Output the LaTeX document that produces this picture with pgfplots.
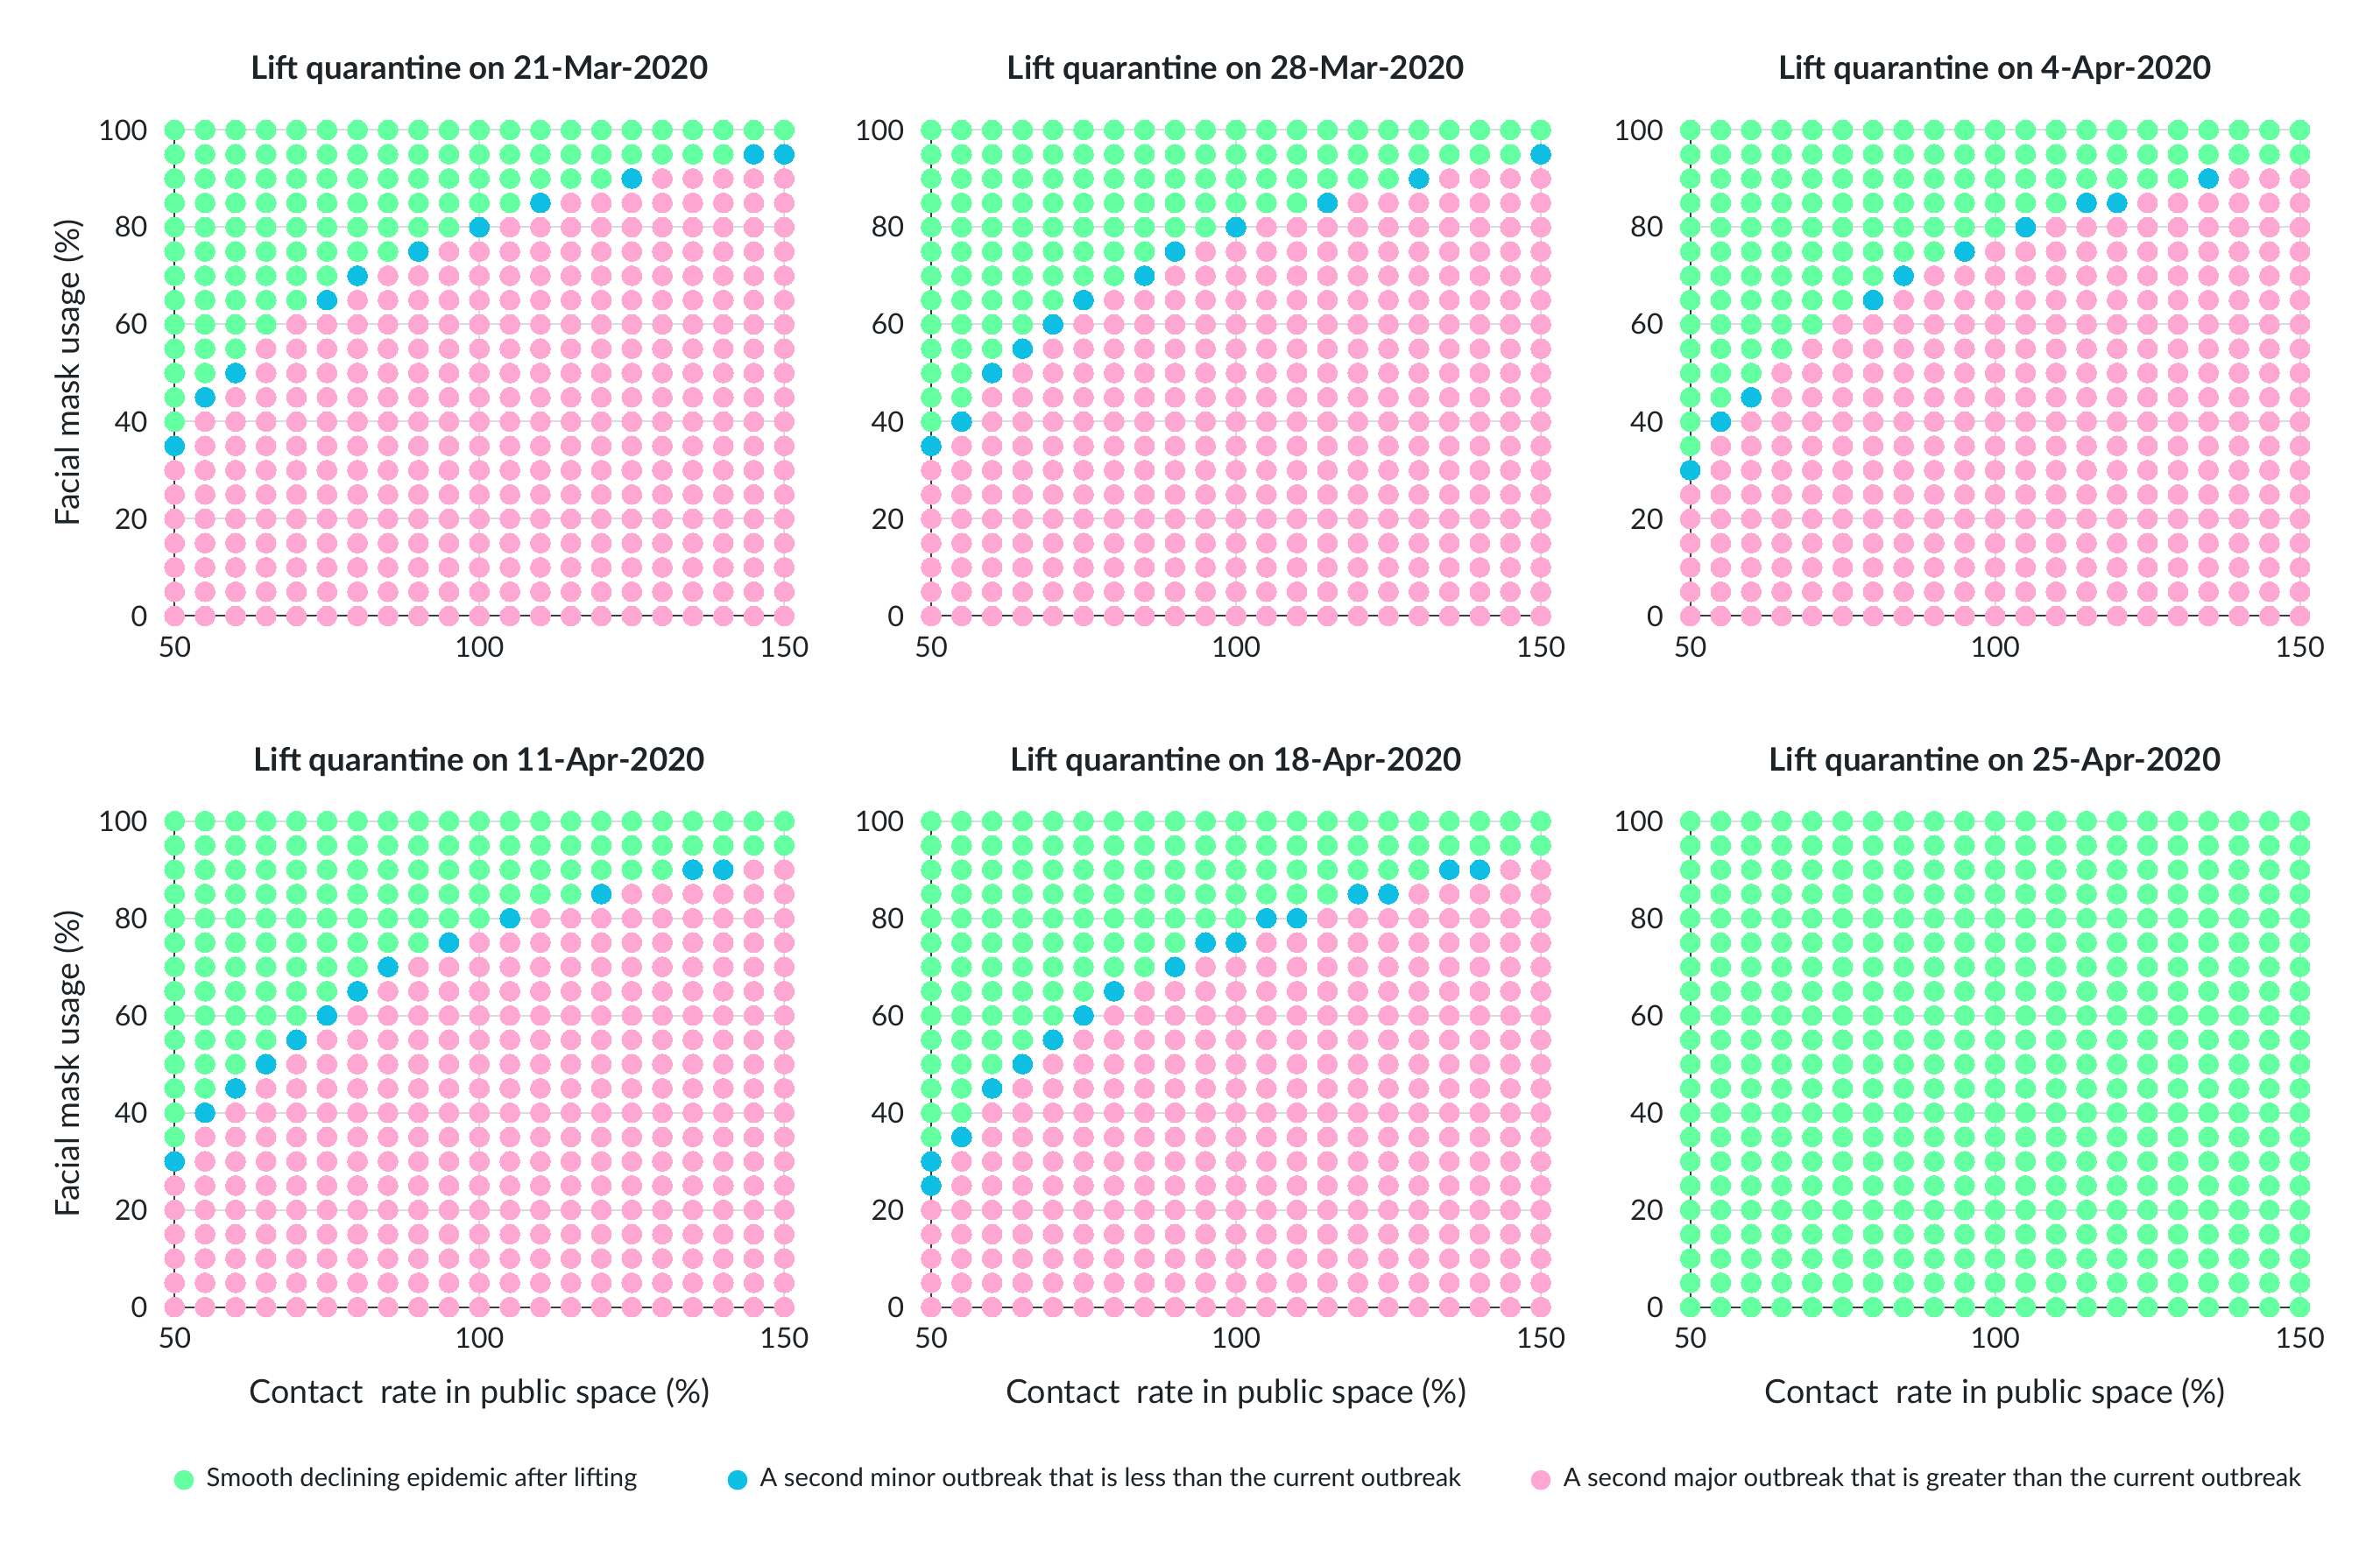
\documentclass[border=0pt]{standalone}
\usepackage{pgfplots}
\usepackage{pgfplotstable}
\pgfplotsset{compat=1.18}
\usepackage{fontspec}
\setmainfont{Lato}
\definecolor{gcol}{HTML}{63FFA1}
\definecolor{bcol}{HTML}{0FBEE3}
\definecolor{pcol}{HTML}{FFA7D3}
\definecolor{txt}{HTML}{1E2327}
\definecolor{gridc}{HTML}{D6DCDF}
\definecolor{axc}{HTML}{3A3D40}

% ---------- 21-Mar-2020 ----------
\pgfplotstableread[row sep=\\]{x y\\
50 40\\50 45\\50 50\\50 55\\50 60\\50 65\\50 70\\50 75\\50 80\\50 85\\50 90\\50 95\\50 100\\
55 50\\55 55\\55 60\\55 65\\55 70\\55 75\\55 80\\55 85\\55 90\\55 95\\55 100\\
60 55\\60 60\\60 65\\60 70\\60 75\\60 80\\60 85\\60 90\\60 95\\60 100\\
65 60\\65 65\\65 70\\65 75\\65 80\\65 85\\65 90\\65 95\\65 100\\
70 65\\70 70\\70 75\\70 80\\70 85\\70 90\\70 95\\70 100\\
75 70\\75 75\\75 80\\75 85\\75 90\\75 95\\75 100\\
80 75\\80 80\\80 85\\80 90\\80 95\\80 100\\
85 75\\85 80\\85 85\\85 90\\85 95\\85 100\\
90 80\\90 85\\90 90\\90 95\\90 100\\
95 80\\95 85\\95 90\\95 95\\95 100\\
100 85\\100 90\\100 95\\100 100\\
105 85\\105 90\\105 95\\105 100\\
110 90\\110 95\\110 100\\
115 90\\115 95\\115 100\\
120 90\\120 95\\120 100\\
125 95\\125 100\\
130 95\\130 100\\
135 95\\135 100\\
140 95\\140 100\\
145 100\\
150 100\\
}\gA
\pgfplotstableread[row sep=\\]{x y\\
50 35\\55 45\\60 50\\75 65\\80 70\\90 75\\100 80\\110 85\\125 90\\145 95\\150 95\\
}\bA
\pgfplotstableread[row sep=\\]{x y\\
50 0\\50 5\\50 10\\50 15\\50 20\\50 25\\50 30\\
55 0\\55 5\\55 10\\55 15\\55 20\\55 25\\55 30\\55 35\\55 40\\
60 0\\60 5\\60 10\\60 15\\60 20\\60 25\\60 30\\60 35\\60 40\\60 45\\
65 0\\65 5\\65 10\\65 15\\65 20\\65 25\\65 30\\65 35\\65 40\\65 45\\65 50\\65 55\\
70 0\\70 5\\70 10\\70 15\\70 20\\70 25\\70 30\\70 35\\70 40\\70 45\\70 50\\70 55\\70 60\\
75 0\\75 5\\75 10\\75 15\\75 20\\75 25\\75 30\\75 35\\75 40\\75 45\\75 50\\75 55\\75 60\\
80 0\\80 5\\80 10\\80 15\\80 20\\80 25\\80 30\\80 35\\80 40\\80 45\\80 50\\80 55\\80 60\\80 65\\
85 0\\85 5\\85 10\\85 15\\85 20\\85 25\\85 30\\85 35\\85 40\\85 45\\85 50\\85 55\\85 60\\85 65\\85 70\\
90 0\\90 5\\90 10\\90 15\\90 20\\90 25\\90 30\\90 35\\90 40\\90 45\\90 50\\90 55\\90 60\\90 65\\90 70\\
95 0\\95 5\\95 10\\95 15\\95 20\\95 25\\95 30\\95 35\\95 40\\95 45\\95 50\\95 55\\95 60\\95 65\\95 70\\95 75\\
100 0\\100 5\\100 10\\100 15\\100 20\\100 25\\100 30\\100 35\\100 40\\100 45\\100 50\\100 55\\100 60\\100 65\\100 70\\100 75\\
105 0\\105 5\\105 10\\105 15\\105 20\\105 25\\105 30\\105 35\\105 40\\105 45\\105 50\\105 55\\105 60\\105 65\\105 70\\105 75\\105 80\\
110 0\\110 5\\110 10\\110 15\\110 20\\110 25\\110 30\\110 35\\110 40\\110 45\\110 50\\110 55\\110 60\\110 65\\110 70\\110 75\\110 80\\
115 0\\115 5\\115 10\\115 15\\115 20\\115 25\\115 30\\115 35\\115 40\\115 45\\115 50\\115 55\\115 60\\115 65\\115 70\\115 75\\115 80\\115 85\\
120 0\\120 5\\120 10\\120 15\\120 20\\120 25\\120 30\\120 35\\120 40\\120 45\\120 50\\120 55\\120 60\\120 65\\120 70\\120 75\\120 80\\120 85\\
125 0\\125 5\\125 10\\125 15\\125 20\\125 25\\125 30\\125 35\\125 40\\125 45\\125 50\\125 55\\125 60\\125 65\\125 70\\125 75\\125 80\\125 85\\
130 0\\130 5\\130 10\\130 15\\130 20\\130 25\\130 30\\130 35\\130 40\\130 45\\130 50\\130 55\\130 60\\130 65\\130 70\\130 75\\130 80\\130 85\\130 90\\
135 0\\135 5\\135 10\\135 15\\135 20\\135 25\\135 30\\135 35\\135 40\\135 45\\135 50\\135 55\\135 60\\135 65\\135 70\\135 75\\135 80\\135 85\\135 90\\
140 0\\140 5\\140 10\\140 15\\140 20\\140 25\\140 30\\140 35\\140 40\\140 45\\140 50\\140 55\\140 60\\140 65\\140 70\\140 75\\140 80\\140 85\\140 90\\
145 0\\145 5\\145 10\\145 15\\145 20\\145 25\\145 30\\145 35\\145 40\\145 45\\145 50\\145 55\\145 60\\145 65\\145 70\\145 75\\145 80\\145 85\\145 90\\
150 0\\150 5\\150 10\\150 15\\150 20\\150 25\\150 30\\150 35\\150 40\\150 45\\150 50\\150 55\\150 60\\150 65\\150 70\\150 75\\150 80\\150 85\\150 90\\
}\pA

% ---------- 28-Mar-2020 ----------
\pgfplotstableread[row sep=\\]{x y\\
50 40\\50 45\\50 50\\50 55\\50 60\\50 65\\50 70\\50 75\\50 80\\50 85\\50 90\\50 95\\50 100\\
55 45\\55 50\\55 55\\55 60\\55 65\\55 70\\55 75\\55 80\\55 85\\55 90\\55 95\\55 100\\
60 55\\60 60\\60 65\\60 70\\60 75\\60 80\\60 85\\60 90\\60 95\\60 100\\
65 60\\65 65\\65 70\\65 75\\65 80\\65 85\\65 90\\65 95\\65 100\\
70 65\\70 70\\70 75\\70 80\\70 85\\70 90\\70 95\\70 100\\
75 70\\75 75\\75 80\\75 85\\75 90\\75 95\\75 100\\
80 70\\80 75\\80 80\\80 85\\80 90\\80 95\\80 100\\
85 75\\85 80\\85 85\\85 90\\85 95\\85 100\\
90 80\\90 85\\90 90\\90 95\\90 100\\
95 80\\95 85\\95 90\\95 95\\95 100\\
100 85\\100 90\\100 95\\100 100\\
105 85\\105 90\\105 95\\105 100\\
110 85\\110 90\\110 95\\110 100\\
115 90\\115 95\\115 100\\
120 90\\120 95\\120 100\\
125 90\\125 95\\125 100\\
130 95\\130 100\\
135 95\\135 100\\
140 95\\140 100\\
145 95\\145 100\\
150 100\\
}\gB
\pgfplotstableread[row sep=\\]{x y\\
50 35\\55 40\\60 50\\65 55\\70 60\\75 65\\85 70\\90 75\\100 80\\115 85\\130 90\\150 95\\
}\bB
\pgfplotstableread[row sep=\\]{x y\\
50 0\\50 5\\50 10\\50 15\\50 20\\50 25\\50 30\\
55 0\\55 5\\55 10\\55 15\\55 20\\55 25\\55 30\\55 35\\
60 0\\60 5\\60 10\\60 15\\60 20\\60 25\\60 30\\60 35\\60 40\\60 45\\
65 0\\65 5\\65 10\\65 15\\65 20\\65 25\\65 30\\65 35\\65 40\\65 45\\65 50\\
70 0\\70 5\\70 10\\70 15\\70 20\\70 25\\70 30\\70 35\\70 40\\70 45\\70 50\\70 55\\
75 0\\75 5\\75 10\\75 15\\75 20\\75 25\\75 30\\75 35\\75 40\\75 45\\75 50\\75 55\\75 60\\
80 0\\80 5\\80 10\\80 15\\80 20\\80 25\\80 30\\80 35\\80 40\\80 45\\80 50\\80 55\\80 60\\80 65\\
85 0\\85 5\\85 10\\85 15\\85 20\\85 25\\85 30\\85 35\\85 40\\85 45\\85 50\\85 55\\85 60\\85 65\\
90 0\\90 5\\90 10\\90 15\\90 20\\90 25\\90 30\\90 35\\90 40\\90 45\\90 50\\90 55\\90 60\\90 65\\90 70\\
95 0\\95 5\\95 10\\95 15\\95 20\\95 25\\95 30\\95 35\\95 40\\95 45\\95 50\\95 55\\95 60\\95 65\\95 70\\95 75\\
100 0\\100 5\\100 10\\100 15\\100 20\\100 25\\100 30\\100 35\\100 40\\100 45\\100 50\\100 55\\100 60\\100 65\\100 70\\100 75\\
105 0\\105 5\\105 10\\105 15\\105 20\\105 25\\105 30\\105 35\\105 40\\105 45\\105 50\\105 55\\105 60\\105 65\\105 70\\105 75\\105 80\\
110 0\\110 5\\110 10\\110 15\\110 20\\110 25\\110 30\\110 35\\110 40\\110 45\\110 50\\110 55\\110 60\\110 65\\110 70\\110 75\\110 80\\
115 0\\115 5\\115 10\\115 15\\115 20\\115 25\\115 30\\115 35\\115 40\\115 45\\115 50\\115 55\\115 60\\115 65\\115 70\\115 75\\115 80\\
120 0\\120 5\\120 10\\120 15\\120 20\\120 25\\120 30\\120 35\\120 40\\120 45\\120 50\\120 55\\120 60\\120 65\\120 70\\120 75\\120 80\\120 85\\
125 0\\125 5\\125 10\\125 15\\125 20\\125 25\\125 30\\125 35\\125 40\\125 45\\125 50\\125 55\\125 60\\125 65\\125 70\\125 75\\125 80\\125 85\\
130 0\\130 5\\130 10\\130 15\\130 20\\130 25\\130 30\\130 35\\130 40\\130 45\\130 50\\130 55\\130 60\\130 65\\130 70\\130 75\\130 80\\130 85\\
135 0\\135 5\\135 10\\135 15\\135 20\\135 25\\135 30\\135 35\\135 40\\135 45\\135 50\\135 55\\135 60\\135 65\\135 70\\135 75\\135 80\\135 85\\135 90\\
140 0\\140 5\\140 10\\140 15\\140 20\\140 25\\140 30\\140 35\\140 40\\140 45\\140 50\\140 55\\140 60\\140 65\\140 70\\140 75\\140 80\\140 85\\140 90\\
145 0\\145 5\\145 10\\145 15\\145 20\\145 25\\145 30\\145 35\\145 40\\145 45\\145 50\\145 55\\145 60\\145 65\\145 70\\145 75\\145 80\\145 85\\145 90\\
150 0\\150 5\\150 10\\150 15\\150 20\\150 25\\150 30\\150 35\\150 40\\150 45\\150 50\\150 55\\150 60\\150 65\\150 70\\150 75\\150 80\\150 85\\150 90\\
}\pB

% ---------- 4-Apr-2020 ----------
\pgfplotstableread[row sep=\\]{x y\\
50 35\\50 40\\50 45\\50 50\\50 55\\50 60\\50 65\\50 70\\50 75\\50 80\\50 85\\50 90\\50 95\\50 100\\
55 45\\55 50\\55 55\\55 60\\55 65\\55 70\\55 75\\55 80\\55 85\\55 90\\55 95\\55 100\\
60 50\\60 55\\60 60\\60 65\\60 70\\60 75\\60 80\\60 85\\60 90\\60 95\\60 100\\
65 55\\65 60\\65 65\\65 70\\65 75\\65 80\\65 85\\65 90\\65 95\\65 100\\
70 60\\70 65\\70 70\\70 75\\70 80\\70 85\\70 90\\70 95\\70 100\\
75 65\\75 70\\75 75\\75 80\\75 85\\75 90\\75 95\\75 100\\
80 70\\80 75\\80 80\\80 85\\80 90\\80 95\\80 100\\
85 75\\85 80\\85 85\\85 90\\85 95\\85 100\\
90 75\\90 80\\90 85\\90 90\\90 95\\90 100\\
95 80\\95 85\\95 90\\95 95\\95 100\\
100 80\\100 85\\100 90\\100 95\\100 100\\
105 85\\105 90\\105 95\\105 100\\
110 85\\110 90\\110 95\\110 100\\
115 90\\115 95\\115 100\\
120 90\\120 95\\120 100\\
125 90\\125 95\\125 100\\
130 90\\130 95\\130 100\\
135 95\\135 100\\
140 95\\140 100\\
145 95\\145 100\\
150 95\\150 100\\
}\gC
\pgfplotstableread[row sep=\\]{x y\\
50 30\\55 40\\60 45\\80 65\\85 70\\95 75\\105 80\\115 85\\120 85\\135 90\\
}\bC
\pgfplotstableread[row sep=\\]{x y\\
50 0\\50 5\\50 10\\50 15\\50 20\\50 25\\
55 0\\55 5\\55 10\\55 15\\55 20\\55 25\\55 30\\55 35\\
60 0\\60 5\\60 10\\60 15\\60 20\\60 25\\60 30\\60 35\\60 40\\
65 0\\65 5\\65 10\\65 15\\65 20\\65 25\\65 30\\65 35\\65 40\\65 45\\65 50\\
70 0\\70 5\\70 10\\70 15\\70 20\\70 25\\70 30\\70 35\\70 40\\70 45\\70 50\\70 55\\
75 0\\75 5\\75 10\\75 15\\75 20\\75 25\\75 30\\75 35\\75 40\\75 45\\75 50\\75 55\\75 60\\
80 0\\80 5\\80 10\\80 15\\80 20\\80 25\\80 30\\80 35\\80 40\\80 45\\80 50\\80 55\\80 60\\
85 0\\85 5\\85 10\\85 15\\85 20\\85 25\\85 30\\85 35\\85 40\\85 45\\85 50\\85 55\\85 60\\85 65\\
90 0\\90 5\\90 10\\90 15\\90 20\\90 25\\90 30\\90 35\\90 40\\90 45\\90 50\\90 55\\90 60\\90 65\\90 70\\
95 0\\95 5\\95 10\\95 15\\95 20\\95 25\\95 30\\95 35\\95 40\\95 45\\95 50\\95 55\\95 60\\95 65\\95 70\\
100 0\\100 5\\100 10\\100 15\\100 20\\100 25\\100 30\\100 35\\100 40\\100 45\\100 50\\100 55\\100 60\\100 65\\100 70\\100 75\\
105 0\\105 5\\105 10\\105 15\\105 20\\105 25\\105 30\\105 35\\105 40\\105 45\\105 50\\105 55\\105 60\\105 65\\105 70\\105 75\\
110 0\\110 5\\110 10\\110 15\\110 20\\110 25\\110 30\\110 35\\110 40\\110 45\\110 50\\110 55\\110 60\\110 65\\110 70\\110 75\\110 80\\
115 0\\115 5\\115 10\\115 15\\115 20\\115 25\\115 30\\115 35\\115 40\\115 45\\115 50\\115 55\\115 60\\115 65\\115 70\\115 75\\115 80\\
120 0\\120 5\\120 10\\120 15\\120 20\\120 25\\120 30\\120 35\\120 40\\120 45\\120 50\\120 55\\120 60\\120 65\\120 70\\120 75\\120 80\\
125 0\\125 5\\125 10\\125 15\\125 20\\125 25\\125 30\\125 35\\125 40\\125 45\\125 50\\125 55\\125 60\\125 65\\125 70\\125 75\\125 80\\125 85\\
130 0\\130 5\\130 10\\130 15\\130 20\\130 25\\130 30\\130 35\\130 40\\130 45\\130 50\\130 55\\130 60\\130 65\\130 70\\130 75\\130 80\\130 85\\
135 0\\135 5\\135 10\\135 15\\135 20\\135 25\\135 30\\135 35\\135 40\\135 45\\135 50\\135 55\\135 60\\135 65\\135 70\\135 75\\135 80\\135 85\\
140 0\\140 5\\140 10\\140 15\\140 20\\140 25\\140 30\\140 35\\140 40\\140 45\\140 50\\140 55\\140 60\\140 65\\140 70\\140 75\\140 80\\140 85\\140 90\\
145 0\\145 5\\145 10\\145 15\\145 20\\145 25\\145 30\\145 35\\145 40\\145 45\\145 50\\145 55\\145 60\\145 65\\145 70\\145 75\\145 80\\145 85\\145 90\\
150 0\\150 5\\150 10\\150 15\\150 20\\150 25\\150 30\\150 35\\150 40\\150 45\\150 50\\150 55\\150 60\\150 65\\150 70\\150 75\\150 80\\150 85\\150 90\\
}\pC

% ---------- 11-Apr-2020 ----------
\pgfplotstableread[row sep=\\]{x y\\
50 35\\50 40\\50 45\\50 50\\50 55\\50 60\\50 65\\50 70\\50 75\\50 80\\50 85\\50 90\\50 95\\50 100\\
55 45\\55 50\\55 55\\55 60\\55 65\\55 70\\55 75\\55 80\\55 85\\55 90\\55 95\\55 100\\
60 50\\60 55\\60 60\\60 65\\60 70\\60 75\\60 80\\60 85\\60 90\\60 95\\60 100\\
65 55\\65 60\\65 65\\65 70\\65 75\\65 80\\65 85\\65 90\\65 95\\65 100\\
70 60\\70 65\\70 70\\70 75\\70 80\\70 85\\70 90\\70 95\\70 100\\
75 65\\75 70\\75 75\\75 80\\75 85\\75 90\\75 95\\75 100\\
80 70\\80 75\\80 80\\80 85\\80 90\\80 95\\80 100\\
85 75\\85 80\\85 85\\85 90\\85 95\\85 100\\
90 75\\90 80\\90 85\\90 90\\90 95\\90 100\\
95 80\\95 85\\95 90\\95 95\\95 100\\
100 80\\100 85\\100 90\\100 95\\100 100\\
105 85\\105 90\\105 95\\105 100\\
110 85\\110 90\\110 95\\110 100\\
115 85\\115 90\\115 95\\115 100\\
120 90\\120 95\\120 100\\
125 90\\125 95\\125 100\\
130 90\\130 95\\130 100\\
135 95\\135 100\\
140 95\\140 100\\
145 95\\145 100\\
150 95\\150 100\\
}\gD
\pgfplotstableread[row sep=\\]{x y\\
50 30\\55 40\\60 45\\65 50\\70 55\\75 60\\80 65\\85 70\\95 75\\105 80\\120 85\\135 90\\140 90\\
}\bD
\pgfplotstableread[row sep=\\]{x y\\
50 0\\50 5\\50 10\\50 15\\50 20\\50 25\\
55 0\\55 5\\55 10\\55 15\\55 20\\55 25\\55 30\\55 35\\
60 0\\60 5\\60 10\\60 15\\60 20\\60 25\\60 30\\60 35\\60 40\\
65 0\\65 5\\65 10\\65 15\\65 20\\65 25\\65 30\\65 35\\65 40\\65 45\\
70 0\\70 5\\70 10\\70 15\\70 20\\70 25\\70 30\\70 35\\70 40\\70 45\\70 50\\
75 0\\75 5\\75 10\\75 15\\75 20\\75 25\\75 30\\75 35\\75 40\\75 45\\75 50\\75 55\\
80 0\\80 5\\80 10\\80 15\\80 20\\80 25\\80 30\\80 35\\80 40\\80 45\\80 50\\80 55\\80 60\\
85 0\\85 5\\85 10\\85 15\\85 20\\85 25\\85 30\\85 35\\85 40\\85 45\\85 50\\85 55\\85 60\\85 65\\
90 0\\90 5\\90 10\\90 15\\90 20\\90 25\\90 30\\90 35\\90 40\\90 45\\90 50\\90 55\\90 60\\90 65\\90 70\\
95 0\\95 5\\95 10\\95 15\\95 20\\95 25\\95 30\\95 35\\95 40\\95 45\\95 50\\95 55\\95 60\\95 65\\95 70\\
100 0\\100 5\\100 10\\100 15\\100 20\\100 25\\100 30\\100 35\\100 40\\100 45\\100 50\\100 55\\100 60\\100 65\\100 70\\100 75\\
105 0\\105 5\\105 10\\105 15\\105 20\\105 25\\105 30\\105 35\\105 40\\105 45\\105 50\\105 55\\105 60\\105 65\\105 70\\105 75\\
110 0\\110 5\\110 10\\110 15\\110 20\\110 25\\110 30\\110 35\\110 40\\110 45\\110 50\\110 55\\110 60\\110 65\\110 70\\110 75\\110 80\\
115 0\\115 5\\115 10\\115 15\\115 20\\115 25\\115 30\\115 35\\115 40\\115 45\\115 50\\115 55\\115 60\\115 65\\115 70\\115 75\\115 80\\
120 0\\120 5\\120 10\\120 15\\120 20\\120 25\\120 30\\120 35\\120 40\\120 45\\120 50\\120 55\\120 60\\120 65\\120 70\\120 75\\120 80\\
125 0\\125 5\\125 10\\125 15\\125 20\\125 25\\125 30\\125 35\\125 40\\125 45\\125 50\\125 55\\125 60\\125 65\\125 70\\125 75\\125 80\\125 85\\
130 0\\130 5\\130 10\\130 15\\130 20\\130 25\\130 30\\130 35\\130 40\\130 45\\130 50\\130 55\\130 60\\130 65\\130 70\\130 75\\130 80\\130 85\\
135 0\\135 5\\135 10\\135 15\\135 20\\135 25\\135 30\\135 35\\135 40\\135 45\\135 50\\135 55\\135 60\\135 65\\135 70\\135 75\\135 80\\135 85\\
140 0\\140 5\\140 10\\140 15\\140 20\\140 25\\140 30\\140 35\\140 40\\140 45\\140 50\\140 55\\140 60\\140 65\\140 70\\140 75\\140 80\\140 85\\
145 0\\145 5\\145 10\\145 15\\145 20\\145 25\\145 30\\145 35\\145 40\\145 45\\145 50\\145 55\\145 60\\145 65\\145 70\\145 75\\145 80\\145 85\\145 90\\
150 0\\150 5\\150 10\\150 15\\150 20\\150 25\\150 30\\150 35\\150 40\\150 45\\150 50\\150 55\\150 60\\150 65\\150 70\\150 75\\150 80\\150 85\\150 90\\
}\pD

% ---------- 18-Apr-2020 ----------
\pgfplotstableread[row sep=\\]{x y\\
50 35\\50 40\\50 45\\50 50\\50 55\\50 60\\50 65\\50 70\\50 75\\50 80\\50 85\\50 90\\50 95\\50 100\\
55 40\\55 45\\55 50\\55 55\\55 60\\55 65\\55 70\\55 75\\55 80\\55 85\\55 90\\55 95\\55 100\\
60 50\\60 55\\60 60\\60 65\\60 70\\60 75\\60 80\\60 85\\60 90\\60 95\\60 100\\
65 55\\65 60\\65 65\\65 70\\65 75\\65 80\\65 85\\65 90\\65 95\\65 100\\
70 60\\70 65\\70 70\\70 75\\70 80\\70 85\\70 90\\70 95\\70 100\\
75 65\\75 70\\75 75\\75 80\\75 85\\75 90\\75 95\\75 100\\
80 70\\80 75\\80 80\\80 85\\80 90\\80 95\\80 100\\
85 70\\85 75\\85 80\\85 85\\85 90\\85 95\\85 100\\
90 75\\90 80\\90 85\\90 90\\90 95\\90 100\\
95 80\\95 85\\95 90\\95 95\\95 100\\
100 80\\100 85\\100 90\\100 95\\100 100\\
105 85\\105 90\\105 95\\105 100\\
110 85\\110 90\\110 95\\110 100\\
115 85\\115 90\\115 95\\115 100\\
120 90\\120 95\\120 100\\
125 90\\125 95\\125 100\\
130 90\\130 95\\130 100\\
135 95\\135 100\\
140 95\\140 100\\
145 95\\145 100\\
150 95\\150 100\\
}\gE
\pgfplotstableread[row sep=\\]{x y\\
50 25\\50 30\\55 35\\60 45\\65 50\\70 55\\75 60\\80 65\\90 70\\95 75\\100 75\\105 80\\110 80\\120 85\\125 85\\135 90\\140 90\\
}\bE
\pgfplotstableread[row sep=\\]{x y\\
50 0\\50 5\\50 10\\50 15\\50 20\\
55 0\\55 5\\55 10\\55 15\\55 20\\55 25\\55 30\\
60 0\\60 5\\60 10\\60 15\\60 20\\60 25\\60 30\\60 35\\60 40\\
65 0\\65 5\\65 10\\65 15\\65 20\\65 25\\65 30\\65 35\\65 40\\65 45\\
70 0\\70 5\\70 10\\70 15\\70 20\\70 25\\70 30\\70 35\\70 40\\70 45\\70 50\\
75 0\\75 5\\75 10\\75 15\\75 20\\75 25\\75 30\\75 35\\75 40\\75 45\\75 50\\75 55\\
80 0\\80 5\\80 10\\80 15\\80 20\\80 25\\80 30\\80 35\\80 40\\80 45\\80 50\\80 55\\80 60\\
85 0\\85 5\\85 10\\85 15\\85 20\\85 25\\85 30\\85 35\\85 40\\85 45\\85 50\\85 55\\85 60\\85 65\\
90 0\\90 5\\90 10\\90 15\\90 20\\90 25\\90 30\\90 35\\90 40\\90 45\\90 50\\90 55\\90 60\\90 65\\
95 0\\95 5\\95 10\\95 15\\95 20\\95 25\\95 30\\95 35\\95 40\\95 45\\95 50\\95 55\\95 60\\95 65\\95 70\\
100 0\\100 5\\100 10\\100 15\\100 20\\100 25\\100 30\\100 35\\100 40\\100 45\\100 50\\100 55\\100 60\\100 65\\100 70\\
105 0\\105 5\\105 10\\105 15\\105 20\\105 25\\105 30\\105 35\\105 40\\105 45\\105 50\\105 55\\105 60\\105 65\\105 70\\105 75\\
110 0\\110 5\\110 10\\110 15\\110 20\\110 25\\110 30\\110 35\\110 40\\110 45\\110 50\\110 55\\110 60\\110 65\\110 70\\110 75\\
115 0\\115 5\\115 10\\115 15\\115 20\\115 25\\115 30\\115 35\\115 40\\115 45\\115 50\\115 55\\115 60\\115 65\\115 70\\115 75\\115 80\\
120 0\\120 5\\120 10\\120 15\\120 20\\120 25\\120 30\\120 35\\120 40\\120 45\\120 50\\120 55\\120 60\\120 65\\120 70\\120 75\\120 80\\
125 0\\125 5\\125 10\\125 15\\125 20\\125 25\\125 30\\125 35\\125 40\\125 45\\125 50\\125 55\\125 60\\125 65\\125 70\\125 75\\125 80\\
130 0\\130 5\\130 10\\130 15\\130 20\\130 25\\130 30\\130 35\\130 40\\130 45\\130 50\\130 55\\130 60\\130 65\\130 70\\130 75\\130 80\\130 85\\
135 0\\135 5\\135 10\\135 15\\135 20\\135 25\\135 30\\135 35\\135 40\\135 45\\135 50\\135 55\\135 60\\135 65\\135 70\\135 75\\135 80\\135 85\\
140 0\\140 5\\140 10\\140 15\\140 20\\140 25\\140 30\\140 35\\140 40\\140 45\\140 50\\140 55\\140 60\\140 65\\140 70\\140 75\\140 80\\140 85\\
145 0\\145 5\\145 10\\145 15\\145 20\\145 25\\145 30\\145 35\\145 40\\145 45\\145 50\\145 55\\145 60\\145 65\\145 70\\145 75\\145 80\\145 85\\145 90\\
150 0\\150 5\\150 10\\150 15\\150 20\\150 25\\150 30\\150 35\\150 40\\150 45\\150 50\\150 55\\150 60\\150 65\\150 70\\150 75\\150 80\\150 85\\150 90\\
}\pE

% ---------- 25-Apr-2020 ----------
\pgfplotstableread[row sep=\\]{x y\\
50 0\\50 5\\50 10\\50 15\\50 20\\50 25\\50 30\\50 35\\50 40\\50 45\\50 50\\50 55\\50 60\\50 65\\50 70\\50 75\\50 80\\50 85\\50 90\\50 95\\50 100\\
55 0\\55 5\\55 10\\55 15\\55 20\\55 25\\55 30\\55 35\\55 40\\55 45\\55 50\\55 55\\55 60\\55 65\\55 70\\55 75\\55 80\\55 85\\55 90\\55 95\\55 100\\
60 0\\60 5\\60 10\\60 15\\60 20\\60 25\\60 30\\60 35\\60 40\\60 45\\60 50\\60 55\\60 60\\60 65\\60 70\\60 75\\60 80\\60 85\\60 90\\60 95\\60 100\\
65 0\\65 5\\65 10\\65 15\\65 20\\65 25\\65 30\\65 35\\65 40\\65 45\\65 50\\65 55\\65 60\\65 65\\65 70\\65 75\\65 80\\65 85\\65 90\\65 95\\65 100\\
70 0\\70 5\\70 10\\70 15\\70 20\\70 25\\70 30\\70 35\\70 40\\70 45\\70 50\\70 55\\70 60\\70 65\\70 70\\70 75\\70 80\\70 85\\70 90\\70 95\\70 100\\
75 0\\75 5\\75 10\\75 15\\75 20\\75 25\\75 30\\75 35\\75 40\\75 45\\75 50\\75 55\\75 60\\75 65\\75 70\\75 75\\75 80\\75 85\\75 90\\75 95\\75 100\\
80 0\\80 5\\80 10\\80 15\\80 20\\80 25\\80 30\\80 35\\80 40\\80 45\\80 50\\80 55\\80 60\\80 65\\80 70\\80 75\\80 80\\80 85\\80 90\\80 95\\80 100\\
85 0\\85 5\\85 10\\85 15\\85 20\\85 25\\85 30\\85 35\\85 40\\85 45\\85 50\\85 55\\85 60\\85 65\\85 70\\85 75\\85 80\\85 85\\85 90\\85 95\\85 100\\
90 0\\90 5\\90 10\\90 15\\90 20\\90 25\\90 30\\90 35\\90 40\\90 45\\90 50\\90 55\\90 60\\90 65\\90 70\\90 75\\90 80\\90 85\\90 90\\90 95\\90 100\\
95 0\\95 5\\95 10\\95 15\\95 20\\95 25\\95 30\\95 35\\95 40\\95 45\\95 50\\95 55\\95 60\\95 65\\95 70\\95 75\\95 80\\95 85\\95 90\\95 95\\95 100\\
100 0\\100 5\\100 10\\100 15\\100 20\\100 25\\100 30\\100 35\\100 40\\100 45\\100 50\\100 55\\100 60\\100 65\\100 70\\100 75\\100 80\\100 85\\100 90\\100 95\\100 100\\
105 0\\105 5\\105 10\\105 15\\105 20\\105 25\\105 30\\105 35\\105 40\\105 45\\105 50\\105 55\\105 60\\105 65\\105 70\\105 75\\105 80\\105 85\\105 90\\105 95\\105 100\\
110 0\\110 5\\110 10\\110 15\\110 20\\110 25\\110 30\\110 35\\110 40\\110 45\\110 50\\110 55\\110 60\\110 65\\110 70\\110 75\\110 80\\110 85\\110 90\\110 95\\110 100\\
115 0\\115 5\\115 10\\115 15\\115 20\\115 25\\115 30\\115 35\\115 40\\115 45\\115 50\\115 55\\115 60\\115 65\\115 70\\115 75\\115 80\\115 85\\115 90\\115 95\\115 100\\
120 0\\120 5\\120 10\\120 15\\120 20\\120 25\\120 30\\120 35\\120 40\\120 45\\120 50\\120 55\\120 60\\120 65\\120 70\\120 75\\120 80\\120 85\\120 90\\120 95\\120 100\\
125 0\\125 5\\125 10\\125 15\\125 20\\125 25\\125 30\\125 35\\125 40\\125 45\\125 50\\125 55\\125 60\\125 65\\125 70\\125 75\\125 80\\125 85\\125 90\\125 95\\125 100\\
130 0\\130 5\\130 10\\130 15\\130 20\\130 25\\130 30\\130 35\\130 40\\130 45\\130 50\\130 55\\130 60\\130 65\\130 70\\130 75\\130 80\\130 85\\130 90\\130 95\\130 100\\
135 0\\135 5\\135 10\\135 15\\135 20\\135 25\\135 30\\135 35\\135 40\\135 45\\135 50\\135 55\\135 60\\135 65\\135 70\\135 75\\135 80\\135 85\\135 90\\135 95\\135 100\\
140 0\\140 5\\140 10\\140 15\\140 20\\140 25\\140 30\\140 35\\140 40\\140 45\\140 50\\140 55\\140 60\\140 65\\140 70\\140 75\\140 80\\140 85\\140 90\\140 95\\140 100\\
145 0\\145 5\\145 10\\145 15\\145 20\\145 25\\145 30\\145 35\\145 40\\145 45\\145 50\\145 55\\145 60\\145 65\\145 70\\145 75\\145 80\\145 85\\145 90\\145 95\\145 100\\
150 0\\150 5\\150 10\\150 15\\150 20\\150 25\\150 30\\150 35\\150 40\\150 45\\150 50\\150 55\\150 60\\150 65\\150 70\\150 75\\150 80\\150 85\\150 90\\150 95\\150 100\\
}\gF

\pgfplotsset{
  legend image code/.code={\fill[#1, draw=none] (2.84pt,0pt) circle[radius=2.84pt];},
  dots/.style={only marks, mark=*, mark size=2.84pt, color=#1, mark options={line width=0pt}, forget plot},
  panel/.style={
    scale only axis, width=174pt, height=138.75pt,
    xmin=50, xmax=150, ymin=0, ymax=100,
    xtick={50,100,150}, ytick={0,20,40,60,80,100},
    axis x line*=bottom, axis y line*=left,
    axis line style={-, draw=axc, line width=0.45pt},
    every outer x axis line/.append style={-},
    every outer y axis line/.append style={-},
    major tick length=0pt,
    grid=major, major grid style={draw=gridc, line width=0.55pt},
    clip=false,
    /pgf/number format/assume math mode=true,
    tick label style={font=\fontsize{8.1}{9.7}\selectfont, text=txt},
    xticklabel style={anchor=north, inner sep=0pt, yshift=-5.6pt},
    yticklabel style={anchor=east, inner sep=0pt, xshift=-7.5pt},
    every axis title/.style={at={(0.5,1.1036)}, anchor=base, inner sep=0pt, font=\bfseries\fontsize{9.2}{11}\selectfont, text=txt},
    every axis x label/.style={at={(0.5,-0.1982)}, anchor=base, inner sep=0pt, font=\fontsize{9.4}{11}\selectfont, text=txt},
    every axis y label/.style={at={(-0.157,0.5)}, rotate=90, anchor=base, inner sep=0pt, font=\fontsize{9.4}{11}\selectfont, text=txt},
  },
  lg/.style={legend style={at={(#1,-0.3559)}, anchor=west, draw=none, fill=none, inner sep=0pt, outer sep=0pt,
    font=\fontsize{7.3}{8.8}\selectfont, text=txt, cells={anchor=west}, nodes={inner sep=0pt}, column sep=3.6pt}},
}

\begin{document}
\begin{tikzpicture}
\path[use as bounding box] (0pt,0pt) rectangle (679.25pt,442.25pt);

\begin{axis}[panel, at={(49.83pt,266.4pt)}, anchor=south west,
  title={Lift quarantine on 21-Mar-2020}, ylabel={Facial mask usage (\%)}]
\addplot[dots=gcol] table {\gA};
\addplot[dots=bcol] table {\bA};
\addplot[dots=pcol] table {\pA};
\end{axis}

\begin{axis}[panel, at={(265.75pt,266.4pt)}, anchor=south west,
  title={Lift quarantine on 28-Mar-2020}]
\addplot[dots=gcol] table {\gB};
\addplot[dots=bcol] table {\bB};
\addplot[dots=pcol] table {\pB};
\end{axis}

\begin{axis}[panel, at={(482.4pt,266.4pt)}, anchor=south west,
  title={Lift quarantine on 4-Apr-2020}]
\addplot[dots=gcol] table {\gC};
\addplot[dots=bcol] table {\bC};
\addplot[dots=pcol] table {\pC};
\end{axis}

\begin{axis}[panel, at={(49.83pt,69.1pt)}, anchor=south west,
  title={Lift quarantine on 11-Apr-2020}, ylabel={Facial mask usage (\%)},
  xlabel={Contact\ \ rate in public space (\%)}, lg=-0.001]
\addplot[dots=gcol] table {\gD};
\addplot[dots=bcol] table {\bD};
\addplot[dots=pcol] table {\pD};
\addlegendimage{fill=gcol, draw=none}
\addlegendentry{Smooth declining epidemic after lifting}
\end{axis}

\begin{axis}[panel, at={(265.75pt,69.1pt)}, anchor=south west,
  title={Lift quarantine on 18-Apr-2020},
  xlabel={Contact\ \ rate in public space (\%)}, lg=-0.3339]
\addplot[dots=gcol] table {\gE};
\addplot[dots=bcol] table {\bE};
\addplot[dots=pcol] table {\pE};
\addlegendimage{fill=bcol, draw=none}
\addlegendentry{A second minor outbreak that is less than the current outbreak}
\end{axis}

\begin{axis}[panel, at={(482.4pt,69.1pt)}, anchor=south west,
  title={Lift quarantine on 25-Apr-2020},
  xlabel={Contact\ \ rate in public space (\%)}, lg=-0.2614]
\addplot[dots=gcol] table {\gF};
\addlegendimage{fill=pcol, draw=none}
\addlegendentry{A second major outbreak that is greater than the current outbreak}
\end{axis}

\end{tikzpicture}
\end{document}
